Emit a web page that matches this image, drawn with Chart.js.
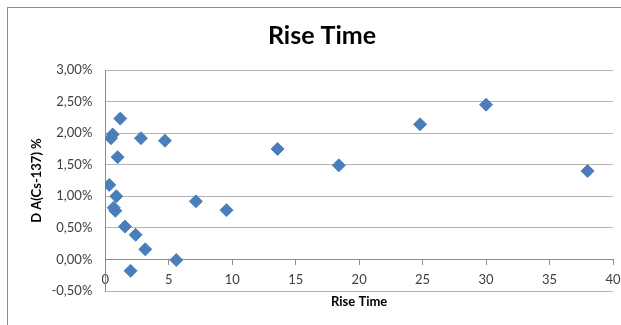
<!DOCTYPE html>
<html>
<head>
<meta charset="utf-8">
<script src="https://cdn.jsdelivr.net/npm/chart.js@4"></script>
<style>
    html, body { margin: 0; padding: 0; background: #fff; overflow: hidden; }
    #marco {
        position: absolute; left: 7px; top: 7px;
        width: 630px; height: 340px;
        border: 1px solid #8c8c8c;
    }
</style>
</head>
<body>
<div id="marco"><canvas id="grafico" width="630" height="340"></canvas></div>
<script>
// Rise Time vs D A(Cs-137)
const riseTime = [0.31, 0.45, 0.58, 0.66, 0.79, 0.87, 0.97, 1.18, 1.55, 1.99, 2.39, 2.81, 3.15, 4.70, 5.59, 7.14, 9.55, 13.57, 18.4, 24.8, 30.0, 38.0]
const deltaA = [1.18, 1.92, 1.98, 0.82, 0.77, 1.00, 1.62, 2.23, 0.52, -0.18, 0.39, 1.92, 0.16, 1.88, -0.01, 0.92, 0.78, 1.75, 1.49, 2.14, 2.45, 1.40]
const xTicks = [0, 5, 10, 15, 20, 25, 30, 35, 40]
const yTicks = [-0.5, 0, 0.5, 1, 1.5, 2, 2.5, 3]

const puntos = riseTime.map((x, i) => ({ x: x, y: deltaA[i] }))
const fuente = "Lato, 'Open Sans', sans-serif"

new Chart(document.getElementById('grafico'), {
    type: 'scatter',
    data: {
        datasets: [{
            label: 'D A(Cs-137)',
            data: puntos,
            pointStyle: 'rectRot',
            pointRadius: 6.5,
            pointHoverRadius: 6.5,
            backgroundColor: '#4a7ebb',
            borderColor: '#4f81bd',
            borderWidth: 1
        }]
    },
    options: {
        responsive: false,
        animation: false,
        layout: { padding: { left: 23, right: 25, top: 0, bottom: 57 } },
        plugins: {
            legend: { display: false },
            tooltip: { enabled: false },
            title: {
                display: true,
                text: 'Rise Time',
                color: '#000',
                font: { family: fuente, size: 25, weight: 'bold' },
                padding: { top: 13, bottom: 19 }
            }
        },
        scales: {
            x: {
                type: 'linear',
                position: { y: 0 },
                min: 0,
                max: 40,
                afterBuildTicks: s => { s.ticks = xTicks.map(v => ({ value: v })) },
                afterFit: s => { s.height = 50 },
                grid: { drawOnChartArea: false, tickLength: 5, color: '#8c8c8c' },
                border: { color: '#8c8c8c' },
                ticks: { color: '#404040', padding: 8, font: { family: fuente, size: 13 } },
                title: {
                    display: true,
                    text: 'Rise Time',
                    color: '#000',
                    font: { family: fuente, size: 13, weight: 'bold' },
                    padding: { top: 0, bottom: 0 }
                }
            },
            y: {
                min: -0.5,
                max: 3,
                afterBuildTicks: s => { s.ticks = yTicks.map(v => ({ value: v })) },
                afterFit: s => { s.width = 74.3 },
                grid: { color: '#b4b4b4', drawTicks: false },
                border: { color: '#8c8c8c' },
                ticks: {
                    color: '#404040',
                    padding: 13,
                    font: { family: fuente, size: 13 },
                    callback: v => v.toFixed(2).replace('.', ',') + '%'
                },
                title: {
                    display: true,
                    text: 'D A(Cs-137) %',
                    color: '#000',
                    font: { family: fuente, size: 13, weight: 'bold' },
                    padding: { top: -2, bottom: 0 }
                }
            }
        }
    }
})
</script>
</body>
</html>
